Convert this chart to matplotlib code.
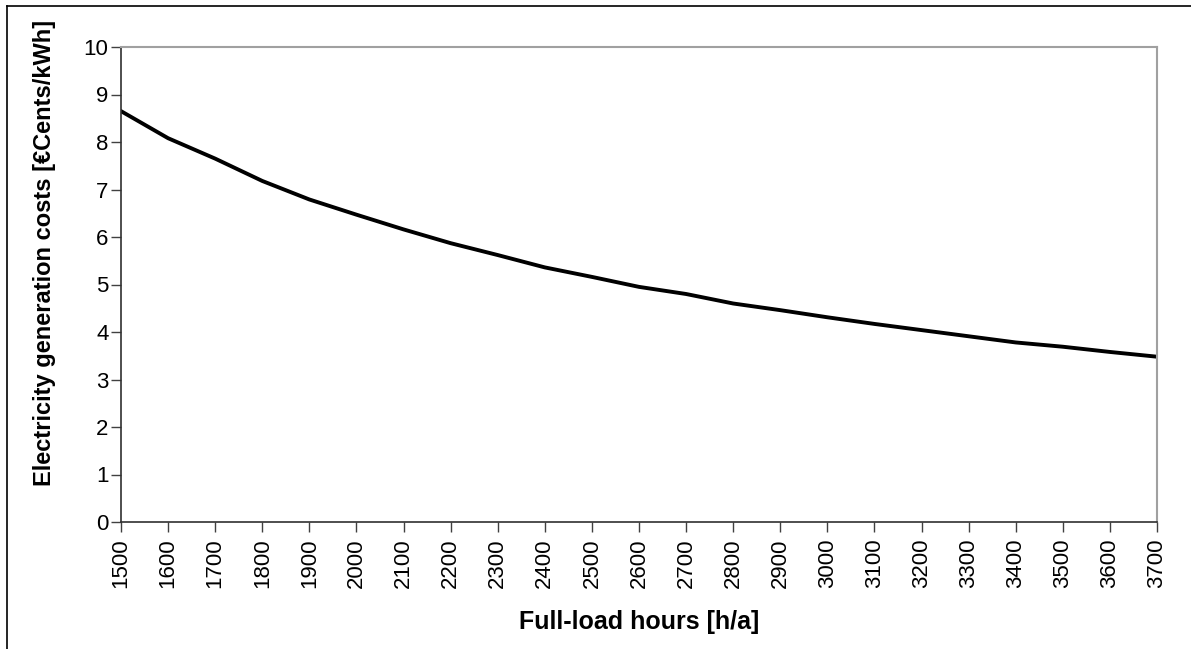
import numpy as np
import matplotlib
matplotlib.use('Agg')
import matplotlib.pyplot as plt
from matplotlib.lines import Line2D

plt.rcParams['font.family'] = ['Liberation Sans', 'DejaVu Sans']

# 满负荷小时数与发电成本
hours = [1500, 1600, 1700, 1800, 1900, 2000, 2100, 2200, 2300, 2400, 2500, 2600,
         2700, 2800, 2900, 3000, 3100, 3200, 3300, 3400, 3500, 3600, 3700]
costs = [8.65, 8.08, 7.65, 7.18, 6.79, 6.47, 6.16, 5.87, 5.62, 5.36, 5.16, 4.95,
         4.80, 4.60, 4.46, 4.31, 4.17, 4.04, 3.91, 3.78, 3.69, 3.58, 3.48]
hour_labels = [str(h) for h in hours]

W, H = 1191, 649
fig = plt.figure(figsize=(W / 100, H / 100), dpi=100)

# 外框（上、左）
fig.add_artist(Line2D([7 / W, 1], [1 - 6 / H, 1 - 6 / H], color='black', lw=1.2, transform=fig.transFigure))
fig.add_artist(Line2D([7 / W, 7 / W], [0, 1 - 6 / H], color='black', lw=1.2, transform=fig.transFigure))

left, right, top, bottom = 121, 1157, 47, 522
ax = fig.add_axes([left / W, 1 - bottom / H, (right - left) / W, (bottom - top) / H])

x = np.arange(len(hours))
ax.plot(x, costs, color='black', linewidth=2.8, solid_joinstyle='round')

ax.set_xlim(0, len(hours) - 1)
ax.set_ylim(0, 10)
ax.set_yticks(range(0, 11))
ax.set_xticks(x)
ax.set_xticklabels(hour_labels, rotation=90)

for s in ['left', 'bottom']:
    ax.spines[s].set_color('#303030')
    ax.spines[s].set_linewidth(1.2)
for s in ['top', 'right']:
    ax.spines[s].set_color('#a0a0a0')
    ax.spines[s].set_linewidth(1.5)

ax.tick_params(axis='both', direction='out', length=7, width=1.0, color='#404040',
               labelsize=16)
ax.tick_params(axis='x', pad=5)
ax.tick_params(axis='y', pad=2)

ax.set_xlabel('Full-load hours [h/a]', fontsize=18, fontweight='bold')
ax.set_ylabel('Electricity generation costs [€Cents/kWh]', fontsize=17, fontweight='bold')
ax.xaxis.set_label_coords(639 / W, 1 - 622 / H, transform=fig.transFigure)
ax.yaxis.set_label_coords(45 / W, 1 - 253 / H, transform=fig.transFigure)
ax.xaxis.label.set_va('center')
ax.yaxis.label.set_va('center')

fig.savefig('out.png', dpi=100)
